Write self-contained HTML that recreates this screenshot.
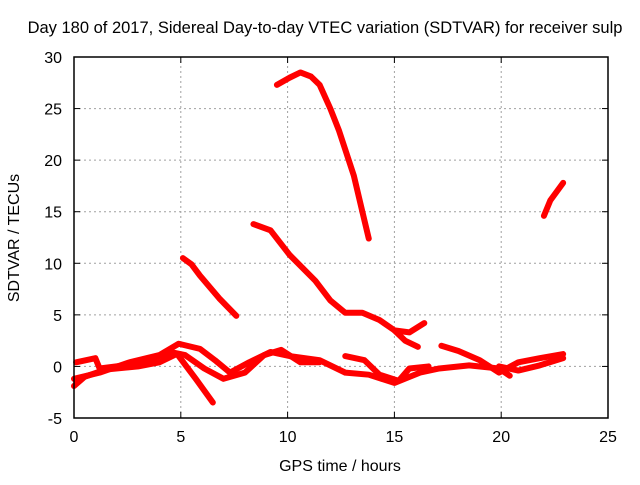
<!DOCTYPE html>
<html><head><meta charset="utf-8"><style>
body{margin:0;background:#fff}
svg text{font-family:"Liberation Sans",sans-serif;font-size:16px;fill:#000}
</style></head><body>
<svg id="chart" width="640" height="480" xmlns="http://www.w3.org/2000/svg">
<text x="325" y="33" text-anchor="middle" style="font-size:16.5px">Day 180 of 2017, Sidereal Day-to-day VTEC variation (SDTVAR) for receiver sulp</text>
<text x="340" y="471" text-anchor="middle">GPS time / hours</text>
<text transform="translate(19,238) rotate(-90)" text-anchor="middle">SDTVAR / TECUs</text>
<g id="grid"></g><g id="series"></g><g id="axes"></g>
</svg>
<script>
const xTicks=[0,5,10,15,20,25];
const yTicks=[-5,0,5,10,15,20,25,30];
const trackA=[[9.5,27.3],[10.1,28.0],[10.6,28.5],[11.1,28.1],[11.5,27.3],[12.0,25],[12.4,22.9],[13.1,18.5],[13.5,15],[13.8,12.4]];
const trackB=[[5.1,10.5],[5.5,9.9],[5.9,8.8],[6.8,6.6],[7.6,4.9]];
const trackC=[[8.4,13.8],[9.2,13.2],[10.1,10.8],[11.3,8.3],[12.0,6.4],[12.7,5.2],[13.5,5.2],[14.3,4.5],[15.0,3.5],[15.7,3.3],[16.4,4.2]];
const trackC2=[[15.0,3.5],[15.5,2.5],[16.1,1.9]];
const trackD=[[22.0,14.6],[22.3,16.1],[22.9,17.8]];
const trackE=[[0,-1.2],[1.2,-0.6],[2.6,0.4],[4.0,1.1],[4.9,2.2],[5.9,1.7],[6.6,0.6],[7.3,-0.6],[8.2,0.4],[9.2,1.4],[10.1,1.0],[11.5,0.6],[12.7,-0.6],[13.8,-0.8],[15.0,-1.6],[16.2,-0.6],[17.1,-0.2],[18.5,0.1],[19.9,-0.2],[20.4,-0.9]];
const trackF=[[0.1,0.4],[1.0,0.8],[1.2,-0.2],[3.1,0.3],[4.5,1.4],[5.2,1.1],[6.1,-0.2],[7.0,-1.2],[8.0,-0.6],[8.9,1.1],[9.7,1.6],[10.6,0.4],[11.5,0.4]];
const trackG=[[4.9,1.0],[5.7,-1.2],[6.5,-3.5]];
const trackH=[[0,-1.9],[0.5,-1.0],[1.5,-0.3],[3.0,0],[4.0,0.4],[4.8,1.2]];
const trackI=[[12.7,1.0],[13.6,0.6],[14.3,-0.8],[15.2,-1.4],[15.7,-0.2],[16.6,0]];
const trackJ=[[17.2,2.0],[18.0,1.5],[19.0,0.6],[19.9,-0.6],[20.8,0.4],[21.8,0.8],[22.9,1.2]];
const trackK=[[19.9,0],[20.8,-0.4],[21.8,0.1],[22.9,0.8]];
const tracks=[trackA,trackB,trackC,trackC2,trackD,trackE,trackF,trackG,trackH,trackI,trackJ,trackK];
const X0=74,X1=608,Y0=418,Y1=57,xmin=0,xmax=25,ymin=-5,ymax=30;
const sx=v=>X0+(v-xmin)/(xmax-xmin)*(X1-X0);
const sy=v=>Y0-(v-ymin)/(ymax-ymin)*(Y0-Y1);
const NS="http://www.w3.org/2000/svg";
function mk(t,a,p){const e=document.createElementNS(NS,t);for(const k in a)e.setAttribute(k,a[k]);p.appendChild(e);return e;}
const grid=document.getElementById('grid'),axes=document.getElementById('axes'),ser=document.getElementById('series');
xTicks.forEach(t=>{
 if(t>xmin&&t<xmax){const g=mk('line',{x1:sx(t),x2:sx(t),y1:Y0,y2:Y1,stroke:'#a0a0a0','stroke-dasharray':'2,3'},grid);
 
 }
 const tl=mk('text',{x:sx(t),y:Y0+24,'text-anchor':'middle'},axes);tl.textContent=t;
 
 
 mk('line',{x1:sx(t),x2:sx(t),y1:Y0,y2:Y0-6,stroke:'#000'},axes);
 mk('line',{x1:sx(t),x2:sx(t),y1:Y1,y2:Y1+6,stroke:'#000'},axes);
});
yTicks.forEach(t=>{
 if(t>ymin&&t<ymax){const g=mk('line',{x1:X0,x2:X1,y1:sy(t),y2:sy(t),stroke:'#a0a0a0','stroke-dasharray':'2,3'},grid);
 
 }
 const tl=mk('text',{x:X0-12,y:sy(t)+6,'text-anchor':'end'},axes);tl.textContent=t;
 
 
 mk('line',{x1:X0,x2:X0+6,y1:sy(t),y2:sy(t),stroke:'#000'},axes);
 mk('line',{x1:X1,x2:X1-6,y1:sy(t),y2:sy(t),stroke:'#000'},axes);
});
const fr=mk('rect',{x:X0,y:Y1,width:X1-X0,height:Y0-Y1,fill:'none',stroke:'#000','stroke-width':1.5},axes);


tracks.forEach(tr=>{
 const p=mk('polyline',{points:tr.map(d=>sx(d[0])+','+sy(d[1])).join(' '),fill:'none',stroke:'#ff0000','stroke-width':6,'stroke-linejoin':'round','stroke-linecap':'round'},ser);
 
 
});
</script>
</body></html>
